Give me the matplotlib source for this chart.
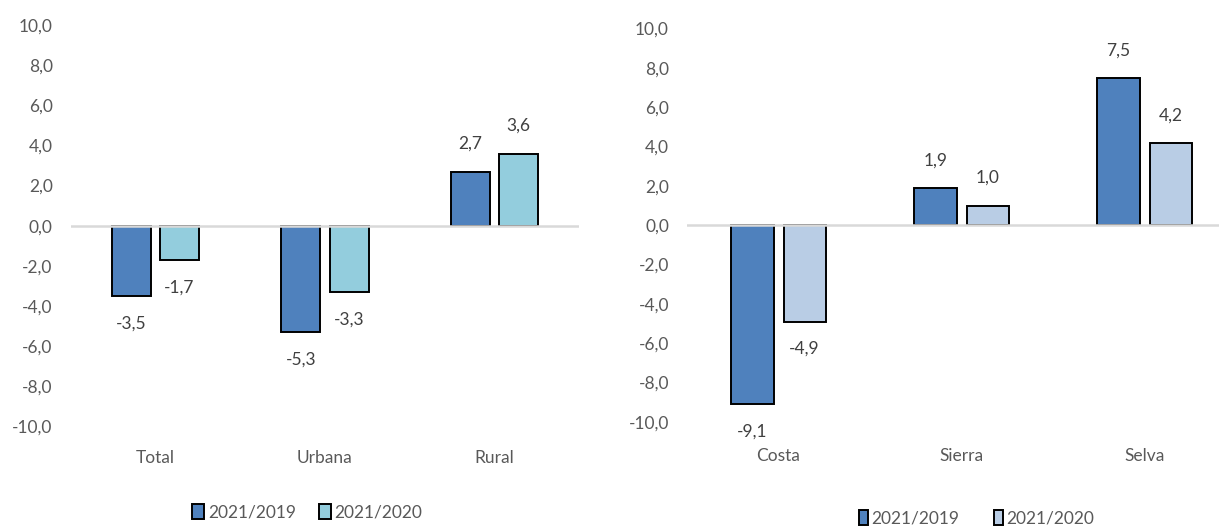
import numpy as np
import matplotlib
matplotlib.use("Agg")
import matplotlib.pyplot as plt

plt.rcParams['font.family'] = ['Liberation Sans Narrow', 'DejaVu Sans Condensed', 'Lato', 'DejaVu Sans']

# data
cats_left = ['Total', 'Urbana', 'Rural']
v19_left = [-3.5, -5.3, 2.7]
v20_left = [-1.7, -3.3, 3.6]

cats_right = ['Costa', 'Sierra', 'Selva']
v19_right = [-9.1, 1.9, 7.5]
v20_right = [-4.9, 1.0, 4.2]

series = ['2021/2019', '2021/2020']
yticks = np.arange(-10, 11, 2)

blue = '#4F81BD'
cyan = '#93CDDD'
pale = '#B9CDE5'
tick_col = '#595959'
lab_col = '#404040'


def fmt(v):
    return '{:.1f}'.format(v).replace('.', ',')


def draw(ax, cats, a, b, col2, fs, xpad):
    x = np.arange(len(cats))
    w = 0.23
    g = 0.055
    off = w / 2 + g / 2
    b1 = ax.bar(x - off, a, w, color=blue, edgecolor='black', linewidth=1.4, zorder=2, label=series[0])
    b2 = ax.bar(x + off, b, w, color=col2, edgecolor='black', linewidth=1.4, zorder=2, label=series[1])
    ax.axhline(0, color='#D9D9D9', linewidth=1.8, zorder=3)
    for bars, vals in [(b1, a), (b2, b)]:
        for r, v in zip(bars, vals):
            ax.annotate(fmt(v), (r.get_x() + r.get_width() / 2, v),
                        xytext=(0, 14 if v > 0 else -14), textcoords='offset points',
                        ha='center', va='bottom' if v > 0 else 'top',
                        fontsize=fs, color=lab_col)
    ax.set_xlim(-0.5, len(cats) - 0.5)
    ax.set_ylim(-10, 10)
    ax.set_yticks(yticks)
    ax.set_yticklabels([fmt(t) for t in yticks])
    ax.set_xticks(x)
    ax.set_xticklabels(cats)
    for s in ax.spines.values():
        s.set_visible(False)
    ax.tick_params(axis='y', length=0, pad=13, labelsize=fs, labelcolor=tick_col)
    ax.tick_params(axis='x', length=0, pad=xpad, labelsize=fs, labelcolor=tick_col)
    return b1, b2


fig = plt.figure(figsize=(12.19, 5.27), dpi=100)
ax1 = fig.add_axes([0.058, 0.1913, 0.4171, 0.7609])
ax2 = fig.add_axes([0.5636, 0.1996, 0.4504, 0.7461])

h1 = draw(ax1, cats_left, v19_left, v20_left, cyan, 12.5, 17)
h2 = draw(ax2, cats_right, v19_right, v20_right, pale, 12.5, 19)

fig.legend(h1, series, loc='center', bbox_to_anchor=(0.252, 0.028), ncol=2, frameon=False,
           fontsize=12.5, labelcolor=tick_col, handlelength=0.7, handleheight=0.9,
           handletextpad=0.2, columnspacing=1.3)
fig.legend(h2, series, loc='center', bbox_to_anchor=(0.801, 0.016), ncol=2, frameon=False,
           fontsize=12.5, labelcolor=tick_col, handlelength=0.5, handleheight=0.9,
           handletextpad=0.2, columnspacing=2.0)

fig.savefig('out.png', dpi=100)
